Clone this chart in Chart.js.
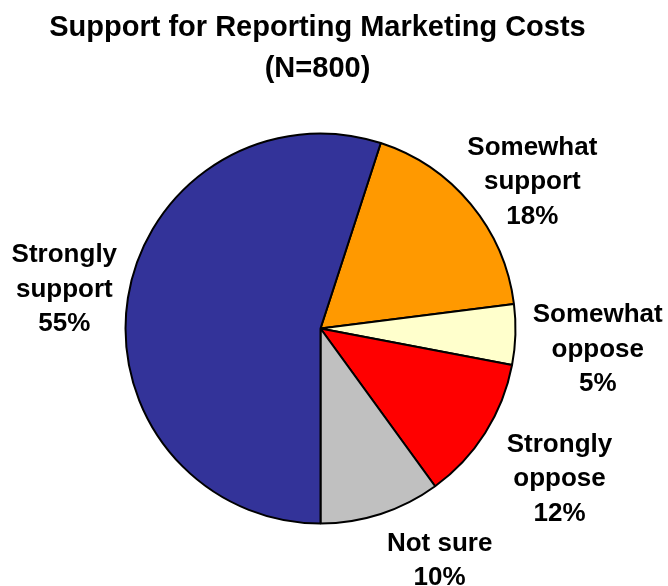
<!DOCTYPE html>
<html>
<head>
<meta charset="utf-8">
<script src="https://cdn.jsdelivr.net/npm/chart.js@4"></script>
<style>
  html, body { margin: 0; padding: 0; background: #fff; }
  #wrap { width: 668px; height: 586px; }
</style>
</head>
<body>
<div id="wrap"><canvas id="supportChart" width="668" height="586"></canvas></div>
<script>
// Survey answers, clockwise from the slice after the top
const titleLines = ['Support for Reporting Marketing Costs', '(N=800)'];
const categories = ['Somewhat support', 'Somewhat oppose', 'Strongly oppose', 'Not sure', 'Strongly support'];
const labelLines = [
  ['Somewhat', 'support'],
  ['Somewhat', 'oppose'],
  ['Strongly', 'oppose'],
  ['Not sure'],
  ['Strongly', 'support']
];
const percents = [18, 5, 12, 10, 55];
const sliceColors = ['#FF9900', '#FFFFCC', '#FF0000', '#C0C0C0', '#333399'];

// Label placement: distance factor from the pie centre plus a small shift per label
const labelRadius = 1.33;
const labelShift = [[12, 17], [18, 11], [20, 10], [39, -16], [0, 0]];

const FONT = '"Liberation Sans", Arial, sans-serif';

const pieText = {
  id: 'pieText',
  afterDraw(chart) {
    const ctx = chart.ctx;
    const area = chart.chartArea;
    ctx.save();
    ctx.fillStyle = '#000';
    ctx.textAlign = 'center';
    ctx.textBaseline = 'alphabetic';

    // title
    ctx.font = 'bold 29px ' + FONT;
    const tx = (area.left + area.right) / 2 - 3;
    titleLines.forEach((t, i) => ctx.fillText(t, tx, 36 + i * 41));

    // slice labels
    ctx.font = 'bold 26px ' + FONT;
    const lineH = 34.5;
    chart.getDatasetMeta(0).data.forEach((arc, i) => {
      const p = arc.getProps(['x', 'y', 'startAngle', 'endAngle', 'outerRadius'], true);
      const mid = (p.startAngle + p.endAngle) / 2;
      const r = p.outerRadius * labelRadius;
      const cx = p.x + Math.cos(mid) * r + labelShift[i][0];
      const cy = p.y + Math.sin(mid) * r + labelShift[i][1];
      const lines = labelLines[i].concat([percents[i] + '%']);
      const n = lines.length;
      lines.forEach((t, j) => {
        ctx.fillText(t, cx, cy + (j - (n - 1) / 2) * lineH + 9);
      });
    });
    ctx.restore();
  }
};

const ctx = document.getElementById('supportChart').getContext('2d');
const supportChart = new Chart(ctx, {
  type: 'pie',
  data: {
    labels: categories,
    datasets: [{
      data: percents,
      backgroundColor: sliceColors,
      borderColor: '#000',
      borderWidth: 2
    }]
  },
  options: {
    responsive: false,
    animation: false,
    rotation: 18,
    layout: {
      padding: { left: 124.5, right: 151.5, top: 132.5, bottom: 61.5 }
    },
    plugins: {
      legend: { display: false },
      title: { display: false },
      tooltip: { enabled: false }
    }
  },
  plugins: [pieText]
});
</script>
</body>
</html>
